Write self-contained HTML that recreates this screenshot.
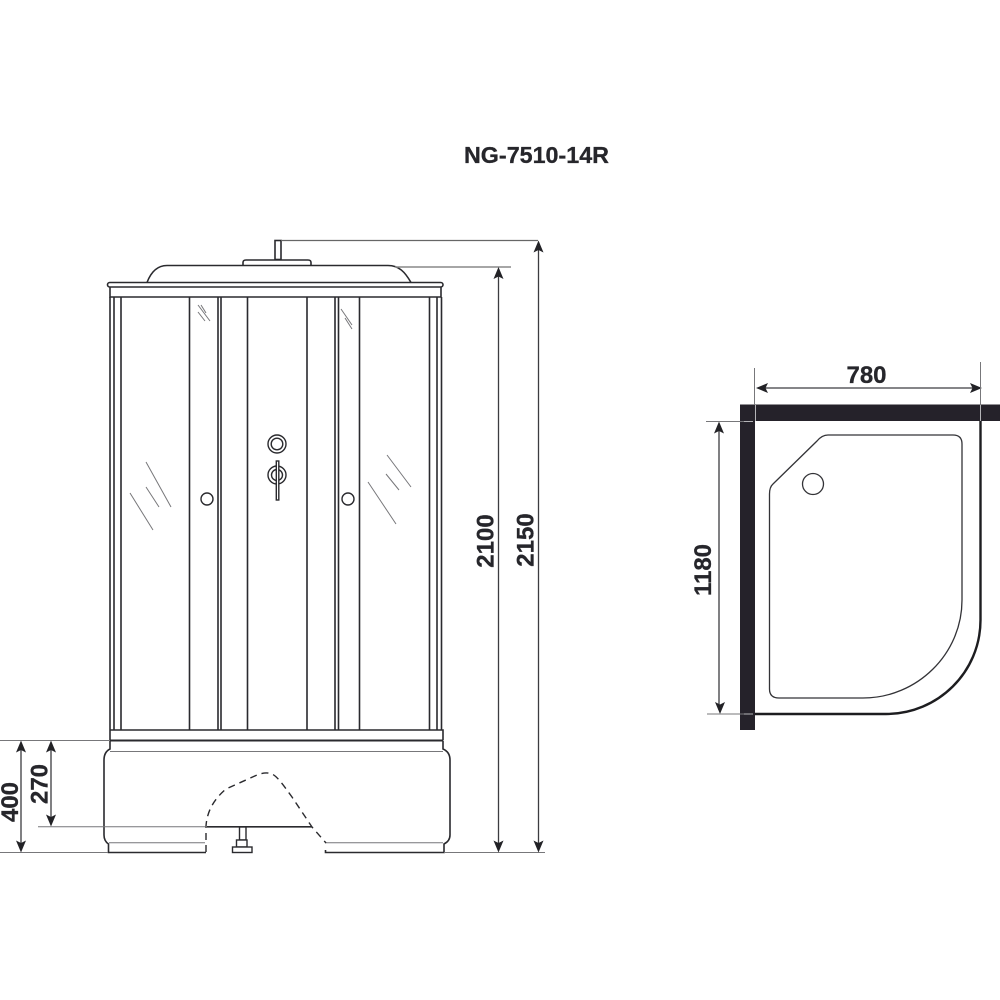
<!DOCTYPE html>
<html><head><meta charset="utf-8"><style>html,body{margin:0;padding:0;background:#fff}svg{display:block}text{font-family:"Liberation Sans",sans-serif;font-weight:bold;fill:#26262b;font-size:24px;text-anchor:middle;stroke:#26262b;stroke-width:.3px}</style></head>
<body>
<svg width="1000" height="1000" viewBox="0 0 1000 1000" xmlns="http://www.w3.org/2000/svg">
<rect width="1000" height="1000" fill="#fff"/>
<text x="536.5" y="163" style="font-size:23.3px">NG-7510-14R</text>

<!-- cabin -->
<g fill="none" stroke="#2a2a2e" stroke-width="1.6">
 <rect x="275" y="240.5" width="6" height="19" fill="#fff"/>
 <path d="M243 265.5v-3q0-2.500 3-2.500h62q3 0 3 2.500v3" fill="#fff"/>
 <path d="M147 282.500C151 272 157 265.500 167 265.500H388C399 265.500 405 272 411 282.500"/>
 <rect x="107.500" y="282.500" width="335.500" height="4.500" rx="2.200" fill="#fff"/>
 <path d="M110 287V297H441V287"/>
 <path d="M110 297V730M114 297V730M121 297V730M189.500 297V730M218 297V730M221 297V730M247.500 297V730M307 297V730M335 297V730M338.500 297V730M359.500 297V730M429.500 297V730M437 297V730M441.500 297V730"/>
 <path d="M110 730H443V740"/>
 <path d="M110 730V740"/>
 <path d="M110 740.500H443" stroke-width="2"/>
 <path d="M110 740.500V749Q104 752 104 760V835Q104 841 108.500 844V852.500H206"/>
 <path d="M443 740.500V749Q450 752 450 760V835Q450 841 444 844V852.500H325.500V850"/>
</g>
<g fill="none" stroke="#77777a" stroke-width="1">
 <path d="M110 751.500H443"/>
 <path d="M109 842.800H205M325 842.800H443"/>
 <path d="M38 826.800H205"/>
 <path d="M0 740.500H110M0 852.500H108M444 852.500H545"/>
 <path d="M281 240.500H538" stroke="#666" stroke-width="1.200"/>
 <path d="M395 267H511" stroke="#888" stroke-width="1.500"/>
 <!-- glass -->
 <path d="M198 305L210 321M201 305L206 313M198 312L205 321M341 309L352 325M345 318L352 329"/>
 <path d="M146 462L171 507M146 487L159 507M130 493L153 530M387 455L411 487M386 474L399 490M368 482L396 524"/>
</g>
<path d="M207 826.800H312" stroke="#2a2a2e" stroke-width="1.600"/>
<path d="M206 852V826C207 812 213 800 226 789L257 775C262 773 267 772 272 774C277 776 284 786 292 797L312 827L326 843" fill="none" stroke="#2a2a2e" stroke-width="1.400" stroke-dasharray="7 5"/>
<g fill="#fff" stroke="#2a2a2e" stroke-width="1.400">
 <rect x="239.500" y="827" width="6.500" height="13"/>
 <rect x="236.500" y="840" width="10.500" height="7"/>
 <rect x="232.500" y="847" width="19.500" height="5.500"/>
 <circle cx="277" cy="444" r="9"/><circle cx="277" cy="444" r="5.800"/>
 <circle cx="277" cy="475" r="9"/><circle cx="277" cy="475" r="5.500"/>
 <rect x="276.300" y="461" width="2.500" height="39"/>
 <circle cx="207" cy="499" r="6"/><circle cx="348" cy="499" r="6"/>
</g>

<!-- dims left/right -->
<g stroke="#3c3c40" stroke-width="1.300">
 <path d="M21 745V848M51 745V822M498.500 272V848M538.500 245V848"/>
 <path d="M719 426V710M760 388H976"/>
</g>
<g fill="#222226">
 <path d="M21 740.500l-5 12 5-2.500 5 2.500zM21 852.500l-5-12 5 2.500 5-2.500z"/>
 <path d="M51 740.500l-5 12 5-2.500 5 2.500zM51 826.500l-5-12 5 2.500 5-2.500z"/>
 <path d="M498.500 267l-5 12 5-2.500 5 2.500zM498.500 852.500l-5-12 5 2.500 5-2.500z"/>
 <path d="M538.500 240.500l-5 12 5-2.500 5 2.500zM538.500 852.500l-5-12 5 2.500 5-2.500z"/>
 <path d="M719 421.500l-5 12 5-2.500 5 2.500zM720 714l-5-12 5 2.500 5-2.500z"/>
 <path d="M756 388l12-5-2.500 5 2.500 5zM982 388l-12-5 2.500 5-2.500 5z"/>
</g>
<text transform="translate(18 802) rotate(-90)">400</text>
<text transform="translate(47.700 784) rotate(-90)">270</text>
<text transform="translate(493.500 541) rotate(-90)">2100</text>
<text transform="translate(533.500 540) rotate(-90)">2150</text>
<text transform="translate(711 570) rotate(-90)">1180</text>
<text x="866.500" y="383">780</text>

<!-- plan -->
<rect x="740" y="404.500" width="260" height="16.500" fill="#25222a"/>
<rect x="740" y="404.500" width="15" height="325.500" fill="#25222a"/>
<path d="M980.500 421V620C980.500 672 938 714 886 714H755" fill="none" stroke="#1d1d20" stroke-width="2.400"/>
<path d="M828 435H953Q962 435 962 444V600C962 654 917 698 863 698H779Q769.500 698 769.500 689V494Q769.500 487 773 484L817 441Q822 435 828 435Z" fill="none" stroke="#333337" stroke-width="1.300"/>
<circle cx="813" cy="484" r="10.500" fill="none" stroke="#333337" stroke-width="1.300"/>
<g stroke="#77777a" stroke-width="1" fill="none">
 <path d="M754.500 368V405M980.500 362V405"/>
 <path d="M706 421.500H744M707 714H744"/>
</g>
<g stroke="#b5b5b8" stroke-width="1" fill="none">
 <path d="M755.500 405V421M980.500 405V421M744 421.500H753M744 714H753"/>
</g>
</svg>
</body></html>
